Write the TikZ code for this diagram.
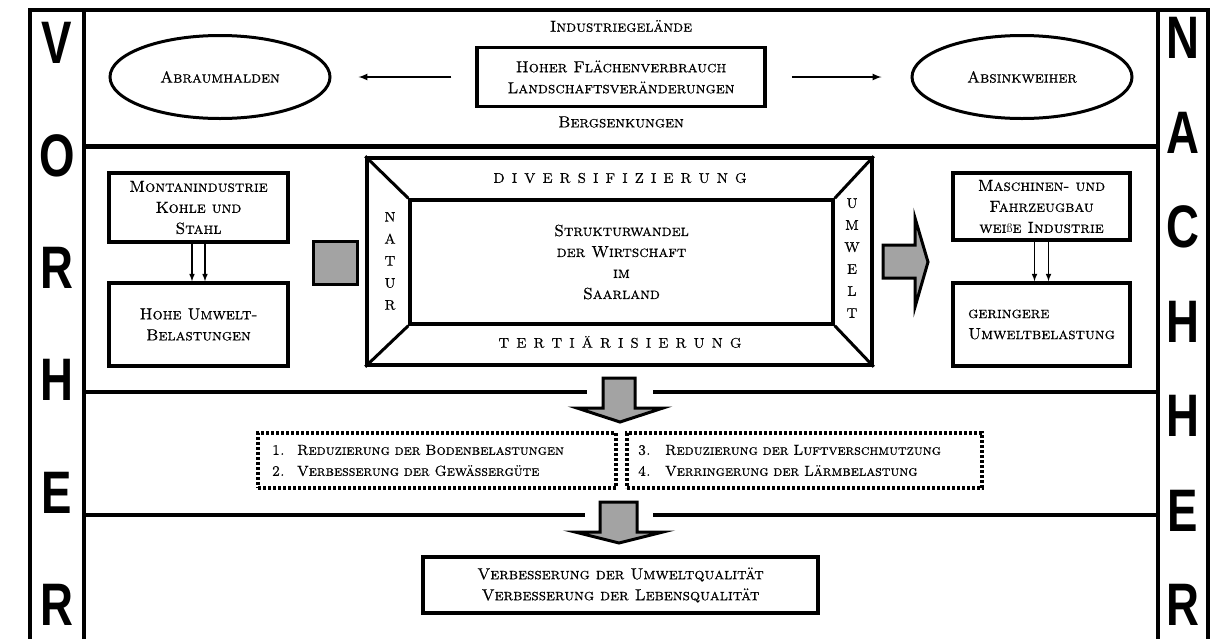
\documentclass[tikz,border=0pt]{standalone}
\usepackage{fontspec}
\newfontfamily\sidefont[FakeStretch=0.76]{Liberation Sans}
\newfontfamily\capsfont[FakeBold=0.6]{lmromancaps10-regular.otf}
\usetikzlibrary{shapes.geometric}

\definecolor{arrowgray}{gray}{0.64}

\begin{document}
\begin{tikzpicture}[x = 1pt, y = -1pt, > = latex,
	frame/.style = {line width = 3.5pt},
	box/.style = {draw, line width = 3.5pt, inner sep = 0pt, align = center},
	oval/.style = {ellipse, draw, line width = 3pt, inner sep = 0pt, minimum width = 220pt, minimum height = 83pt},
	dotbox/.style = {draw, line width = 3.5pt, dash pattern = on 3pt off 2pt, inner sep = 0pt, align = left,
		font = \capsfont\fontsize{14.5}{21}\selectfont},
	grayarrow/.style = {draw, line width = 3pt, fill = arrowgray, line join = miter},
	side/.style = {font = \sidefont\bfseries\fontsize{60}{60}\selectfont, inner sep = 0pt},
	letters/.style = {font = \capsfont\fontsize{14}{22}\selectfont, align = center, inner sep = 0pt},
	every node/.append style = {font = \capsfont\fontsize{16}{21}\selectfont}]

	\useasboundingbox (0, 0) rectangle (1220, 638);

	% Frame and rows

	\draw [frame] (30, 640) -- (30, 10) -- (1208, 10) -- (1208, 640);
	\draw [frame] (84, 10) -- (84, 640);
	\draw [frame] (1158, 10) -- (1158, 640);
	\draw [line width = 5pt] (84, 146) -- (1158, 146);
	\draw [frame] (84, 392) -- (587, 392) (653, 392) -- (1158, 392);
	\draw [frame] (84, 515) -- (585, 515) (653, 515) -- (1158, 515);

	% Vorher / Nachher

	\foreach \letter [count = \i from 0] in {V, O, R, H, E, R}
		\node [side] (vor\i) at (57, 43 + 112.4 * \i) {\letter};
	\foreach \letter [count = \i from 0] in {N, A, C, H, H, E, R}
		\node [side] (nach\i) at (1183, 38 + 94.5 * \i) {\letter};

	% Industriegelaende

	\node (gelaende) at (621, 26) {Industriegelände};
	\node [box, minimum width = 288pt, minimum height = 59pt] (flaeche) at (621, 77) {Hoher Flächenverbrauch\\Landschaftsveränderungen};
	\node (senkung) at (621, 122) {Bergsenkungen};
	\node [oval] (halden) at (220, 77) {Abraumhalden};
	\node [oval] (weiher) at (1022, 77) {Absinkweiher};
	\draw [->, line width = 2pt, shorten <= 24pt, shorten >= 27pt] (flaeche) -- (halden);
	\draw [->, line width = 2pt, shorten <= 25pt, shorten >= 29pt] (flaeche) -- (weiher);

	% Vorher: Montanindustrie

	\node [box, minimum width = 179pt, minimum height = 69pt] (montan) at (198.5, 207.5) {Montanindustrie\\Kohle und\\Stahl};
	\node [box, minimum width = 179pt, minimum height = 83pt] (hohe) at (198.5, 324.5) {Hohe Umwelt-\\Belastungen};
	\draw [->, line width = 1.5pt] ([xshift = -6.5pt] montan.south) -- ([xshift = -6.5pt] hohe.north);
	\draw [->, line width = 1.5pt] ([xshift = 6.5pt] montan.south) -- ([xshift = 6.5pt] hohe.north);

	\node [draw, line width = 3pt, fill = arrowgray, minimum width = 44pt, minimum height = 43pt] (quadrat) at (335, 262.5) {};

	% Strukturwandel

	\node [box, minimum width = 505pt, minimum height = 207pt] (rahmen) at (619.5, 261.5) {};
	\node [box, minimum width = 423pt, minimum height = 124pt] (wandel) at (621.5, 262) {Strukturwandel\\der Wirtschaft\\im\\Saarland};
	\draw [line width = 3pt] (rahmen.north west) -- (wandel.north west);
	\draw [line width = 3pt] (rahmen.north east) -- (wandel.north east);
	\draw [line width = 3pt] (rahmen.south west) -- (wandel.south west);
	\draw [line width = 3pt] (rahmen.south east) -- (wandel.south east);

	\node [letters] (divers) at (620, 178) {\spaceskip = 6.8pt D I V E R S I F I Z I E R U N G};
	\node [letters] (tertiaer) at (620, 342) {\spaceskip = 6.8pt T E R T I Ä R I S I E R U N G};
	\node [letters] (natur) at (390, 261) {N\\A\\T\\U\\R};
	\node [letters] (umwelt) at (852, 258) {U\\M\\W\\E\\L\\T};

	\draw [grayarrow] (883, 245) -- (915, 245) -- (915, 218) -- (928, 262) -- (915, 307) -- (915, 278) -- (883, 278) -- cycle;

	% Nachher: Maschinen- und Fahrzeugbau

	\node [box, minimum width = 177pt, minimum height = 67pt] (maschinen) at (1041.5, 206.5)
		{Maschinen- und\\Fahrzeugbau\\wei{\rmfamily\fontsize{12.5}{21}\selectfont ß}e Industrie};
	\node [box, minimum width = 177pt, minimum height = 83pt, align = left] (geringer) at (1041.5, 324.5) {geringere\\Umweltbelastung};
	\draw [->, line width = 1.5pt] ([xshift = -7pt] maschinen.south) -- ([xshift = -7pt] geringer.north);
	\draw [->, line width = 1.5pt] ([xshift = 7pt] maschinen.south) -- ([xshift = 7pt] geringer.north);

	% Massnahmen

	\draw [grayarrow] (603, 378) -- (635, 378) -- (635, 408) -- (663, 408) -- (620, 422) -- (577, 408) -- (603, 408) -- cycle;

	\node [dotbox, minimum width = 358pt, minimum height = 55pt, text width = 330pt] (boden) at (437, 460.5)
		{\makebox[25pt][l]{1.}Reduzierung der Bodenbelastungen\\\makebox[25pt][l]{2.}Verbesserung der Gewässergüte};
	\node [dotbox, minimum width = 355pt, minimum height = 55pt, text width = 333pt] (luft) at (804.5, 460.5)
		{\makebox[27pt][l]{3.}Reduzierung der Luftverschmutzung\\\makebox[27pt][l]{4.}Verringerung der Lärmbelastung};

	% Ergebnis

	\draw [grayarrow] (600, 502) -- (637, 502) -- (637, 532) -- (663, 532) -- (619, 543) -- (575, 532) -- (600, 532) -- cycle;

	\node [box, minimum width = 395pt, minimum height = 56pt] (qualitaet) at (620.5, 585) {Verbesserung der Umweltqualität\\Verbesserung der Lebensqualität};

\end{tikzpicture}
\end{document}
